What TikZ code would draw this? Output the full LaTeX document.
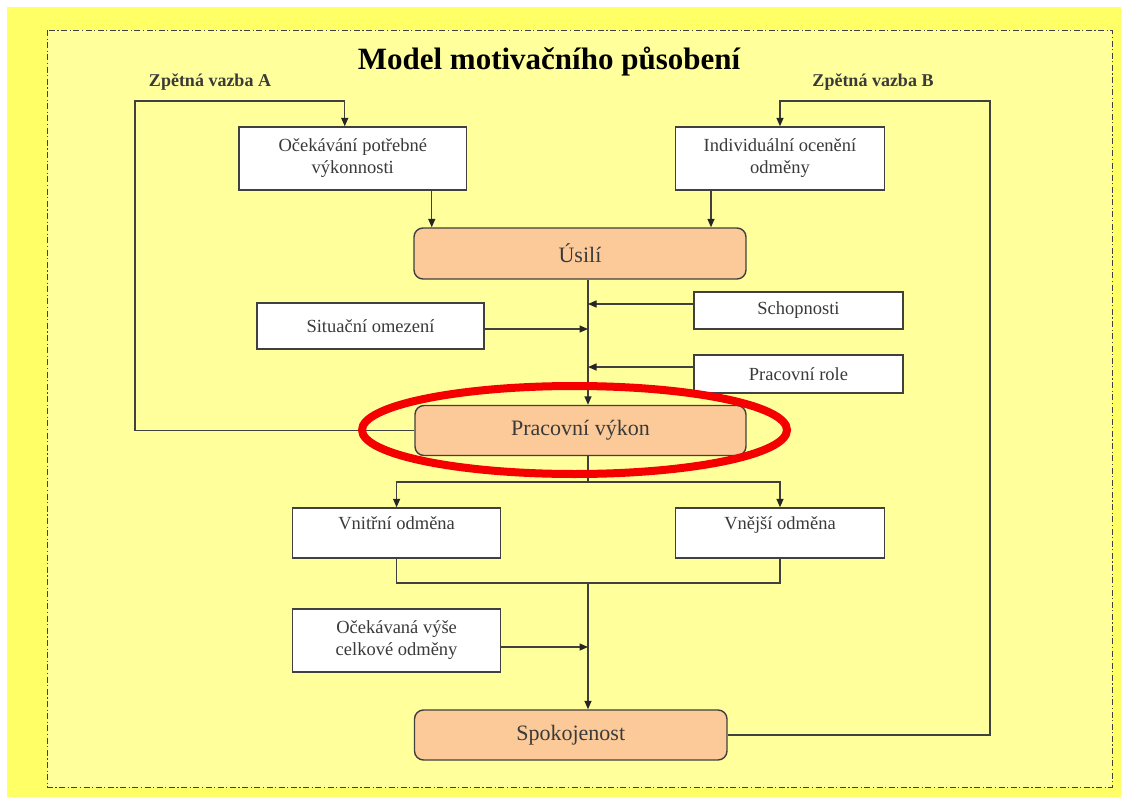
\documentclass[tikz,border=0pt]{standalone}
\usepackage{fontspec}
\setmainfont{Liberation Serif}
\usetikzlibrary{arrows.meta,shapes.geometric}
\definecolor{outeryellow}{RGB}{255,255,102}
\definecolor{inneryellow}{RGB}{255,255,156}
\definecolor{peach}{RGB}{252,202,152}
\definecolor{boxline}{RGB}{64,64,64}
\definecolor{boxtext}{RGB}{58,58,58}
\definecolor{ringred}{RGB}{245,0,0}
\tikzset{box/.style = {shape=rectangle,draw=boxline,fill=white,line width=1.4pt,text=boxtext,align=center,inner sep=0pt,font=\fontsize{18.5}{22}\selectfont}}
\tikzset{stage/.style = {box,fill=peach,rounded corners=9pt,font=\fontsize{22}{26}\selectfont}}
\tikzset{edge/.style = {->,> = {Triangle[length=8.5pt,width=7pt,color=black!85]},draw=boxline,line width=1.4pt}}
\tikzset{link/.style = {draw=boxline,line width=1.4pt}}
\tikzset{loopname/.style = {text=boxtext,anchor=base,font=\fontsize{18}{22}\selectfont\bfseries}}

\begin{document}
\begin{tikzpicture}[x=1pt,y=-1pt]
          \useasboundingbox (0,0) rectangle (1128,803);
          \fill[outeryellow] (7,7) rectangle (1121,797);
          \draw[fill=inneryellow,draw=boxline,line width=0.9pt,dash pattern=on 6pt off 2.5pt on 1.2pt off 2.5pt] (47.5,30) rectangle (1112,787);

          \node[anchor=base,font=\fontsize{31}{36}\selectfont\bfseries] (title) at (549,69) {Model motivačního působení};
          \node[loopname] (fbAname) at (210,86) {Zpětná vazba A};
          \node[loopname] (fbBname) at (873,86) {Zpětná vazba B};

          \node[box,minimum width=227.5,minimum height=63] (expect) at (352.75,158.5) {Očekávání potřebné\\výkonnosti};
          \node[box,minimum width=209,minimum height=63] (reward) at (780,158.5) {Individuální ocenění\\odměny};
          \node[stage,minimum width=332,minimum height=51] (effort) at (580,253.5) {Úsilí};
          \node[box,minimum width=209,minimum height=37] (ability) at (798.5,310.5) {Schopnosti};
          \node[box,minimum width=227,minimum height=46] (constraint) at (370.5,326) {Situační omezení};
          \node[box,minimum width=209,minimum height=38] (role) at (798.5,374) {Pracovní role};
          \node[stage,minimum width=331,minimum height=50] (perf) at (580.5,430.5) {Pracovní výkon};
          \node[box,minimum width=208,minimum height=50,text depth=20pt] (intr) at (396.6,533) {Vnitřní odměna};
          \node[box,minimum width=209,minimum height=50,text depth=20pt] (extr) at (780,533) {Vnější odměna};
          \node[box,minimum width=208,minimum height=63] (expreward) at (396.6,640.5) {Očekávaná výše\\celkové odměny};
          \node[stage,minimum width=312.5,minimum height=50] (satisf) at (570.75,735) {Spokojenost};

          \coordinate (fbA) at (135,101);
          \coordinate (fbB) at (990,101);
          \coordinate (axis) at ([xshift=8pt]effort.south);
          \coordinate (split) at (588,482);
          \coordinate (merge) at (588,583);

          % feedback loops
          \draw[edge] (perf.west) -| (fbA) -| ([xshift=-8pt]expect.north);
          \draw[edge] (satisf.east) -| (fbB) -| (reward.north);

          \draw[edge] ([xshift=79pt]expect.south) -- ([xshift=79pt]expect.south |- effort.north);
          \draw[edge] ([xshift=-69pt]reward.south) -- ([xshift=-69pt]reward.south |- effort.north);
          \draw[edge] (axis) -- (axis |- perf.north);
          \draw[edge] ([yshift=6.5pt]ability.west) -- ([yshift=6.5pt]ability.west -| axis);
          \draw[edge] ([yshift=-3pt]constraint.east) -- ([yshift=-3pt]constraint.east -| axis);
          \draw[edge] ([yshift=7pt]role.west) -- ([yshift=7pt]role.west -| axis);

          \draw[link] ([xshift=7.5pt]perf.south) -- (split);
          \draw[edge] (split) -| (intr.north);
          \draw[edge] (split) -| (extr.north);
          \draw[link] (intr.south) |- (merge) -| (extr.south);
          \draw[edge] (merge) -- (merge |- satisf.north);
          \draw[edge] ([yshift=-6.5pt]expreward.east) -- ([yshift=-6.5pt]expreward.east -| merge);

          \node[draw=ringred,line width=8pt,ellipse,minimum width=425,minimum height=88,inner sep=0pt] (ring) at (574.5,430) {};
        \end{tikzpicture}
\end{document}
